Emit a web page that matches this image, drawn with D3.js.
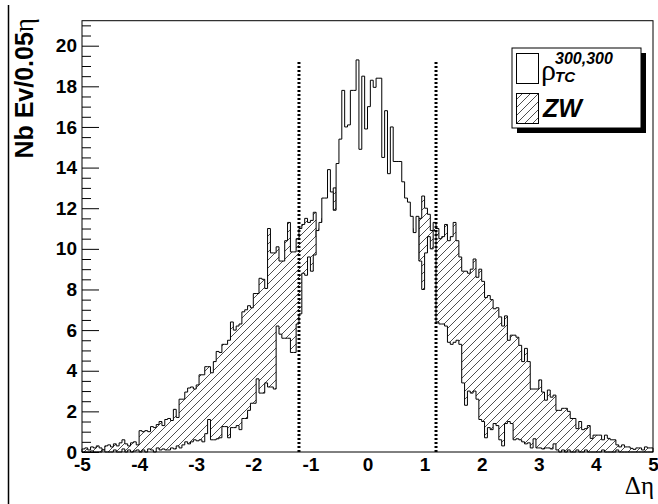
<!DOCTYPE html>
<html lang="en">
<head>
<meta charset="utf-8">
<title>delta eta</title>
<script src="https://cdn.jsdelivr.net/npm/d3@7/dist/d3.min.js"></script>
<style>
    body { margin: 0; background: #fff; }
    .tick text { font-family: "Liberation Sans", Arial, sans-serif; font-weight: bold; font-size: 19px; fill: #000; }
    .tick line { stroke: #000; stroke-width: 1; }
    .domain { display: none; }
</style>
</head>
<body>
<div id="graph"></div>
<script>

// bins of 0.05 in delta eta, from -5 to 5
var binEdges = d3.range(0, 201).map(function (i) { return -5 + i * 0.05; });

// rho_TC (300,300) signal, events per bin
var signalCounts = [
    0,0,0,0.05,0,0,0,0.1,0,0,
    0,0.1,0,0,0.15,0,0.1,0,0.05,0.1,
    0,0.1,0,0.15,0.1,0,0.2,0.1,0.15,0.1,
    0.1,0.2,0.15,0.3,0.2,0.35,0.5,0.4,0.5,0.6,
    0.55,0.6,0.5,0.9,1.6,0.6,0.6,0.65,0.7,1.25,
    1.25,0.7,1.2,1.2,1.3,1.1,1.65,1.65,2.05,2.4,
    2.4,3.6,2.9,2.9,3.4,3.2,3.2,3.1,6.2,5.8,
    5.6,5.6,5.6,4.9,4.9,6.3,6.8,8.8,8.7,9.6,
    8.9,9.7,10.9,11.3,12.5,12.5,13.9,12.8,11.9,14.2,
    15.4,17.8,16.0,16.1,17.8,17.8,19.3,14.9,18.5,15.9,
    17.0,18.3,17.95,18.4,18.4,14.5,16.8,13.7,16.0,14.3,
    14.3,14.3,13.3,12.5,12.3,11.6,10.8,11.6,9.4,8.0,
    9.8,10.6,10.0,10.9,6.4,6.3,6.3,6.2,5.4,5.3,
    5.4,5.5,5.3,3.4,2.3,3.0,2.9,3.0,2.6,1.6,
    1.5,0.7,1.2,1.1,1.4,1.3,0.6,0.3,1.4,1.5,
    1.4,0.6,0.65,0.6,0.5,0.4,0.45,0.2,0.65,0.2,
    0.2,0.15,0.2,0.2,0.15,0.4,0.1,0,0.1,0,
    0.1,0,0,0.1,0,0,0.1,0,0,0,
    0,0,0.1,0,0,0,0,0.1,0,0,
    0,0,0,0,0,0,0,0,0,0
];

// ZW background, events per bin
var zwCounts = [
    0.15,0.2,0.1,0.25,0.2,0.3,0.2,0.1,0.3,0.35,
    0.25,0.4,0.3,0.45,0.6,0.4,0.3,0.45,0.5,0.35,
    1.05,1.0,1.05,1.0,1.25,1.2,1.35,1.5,1.3,1.6,
    1.65,1.55,2.1,1.7,2.6,2.6,2.95,3.15,3.2,3.1,
    3.3,3.8,3.8,4.2,4.2,3.9,4.45,4.95,4.9,5.3,
    5.3,5.5,6.4,6.0,6.2,6.3,6.9,7.0,7.2,7.1,
    7.8,7.8,8.55,8.5,8.05,11.0,9.8,9.8,10.1,9.4,
    9.4,10.4,11.3,9.85,9.85,10.5,11.0,11.2,11.5,11.3,
    11.4,11.8,10.6,11.0,11.5,11.0,12.0,11.5,13.0,11.5,
    12.0,11.0,11.5,12.0,11.0,11.5,12.5,11.0,12.0,11.5,
    12.0,11.5,12.5,11.0,12.0,11.5,12.0,11.0,12.0,11.5,
    12.0,11.5,11.0,11.5,11.0,11.0,9.0,9.5,11.5,12.6,
    12.0,11.7,10.9,11.3,11.0,10.5,10.6,11.2,10.4,10.6,
    11.3,10.4,9.6,8.9,8.9,8.8,9.0,9.5,8.6,9.0,
    8.4,7.6,7.7,7.5,7.05,7.1,6.65,6.2,6.7,5.5,
    5.75,5.75,5.65,5.25,4.45,5.1,4.45,3.1,3.1,3.1,
    3.55,2.95,2.55,3.05,2.7,2.8,2.05,2.05,2.15,2.15,
    2.0,1.65,1.65,1.15,1.5,1.1,1.15,1.3,0.67,0.83,
    0.83,0.83,0.6,0.83,0.67,0.6,0.6,0.35,0.25,0.35,
    0.25,0.25,0.18,0.13,0.2,0.2,0.1,0.25,0.2,0.2
];

var xTicks = [-5, -4, -3, -2, -1, 0, 1, 2, 3, 4, 5];
var yTicks = [0, 2, 4, 6, 8, 10, 12, 14, 16, 18, 20];
var yMinorTicks = d3.range(0, 21.01, 0.5).filter(function (v) { return v % 2 !== 0; });
var cutValues = [-1.2, 1.2];

var W = 658, H = 504;
var frame = {left: 82, right: 653, top: 20.7, bottom: 452};

var svg = d3.select("#graph").append("svg")
    .attr("width", W)
    .attr("height", H);

// canvas border on the left
svg.append("line")
    .attr("x1", 8.5).attr("x2", 8.5)
    .attr("y1", 5).attr("y2", H)
    .attr("stroke", "#000")
    .attr("stroke-width", 1.5);

var yMax = 1.1 * d3.max(signalCounts);

var x_scale = d3.scaleLinear()
    .domain([-5, 5])
    .range([frame.left, frame.right]);

var y_scale = d3.scaleLinear()
    .domain([0, yMax])
    .range([frame.bottom, frame.top]);

// hatch pattern for ZW
var defs = svg.append("defs");
var pat = defs.append("pattern")
    .attr("id", "hatch")
    .attr("patternUnits", "userSpaceOnUse")
    .attr("width", 8)
    .attr("height", 8);
pat.append("path")
    .attr("d", "M-2,2 L2,-2 M0,8 L8,0 M6,10 L10,6")
    .attr("stroke", "#222")
    .attr("stroke-width", 0.8);

function histPoints(counts) {
    var pts = [[binEdges[0], 0]];
    counts.forEach(function (v, i) {
        pts.push([binEdges[i], v]);
        pts.push([binEdges[i + 1], v]);
    });
    pts.push([binEdges[binEdges.length - 1], 0]);
    return pts;
}

var histLine = d3.line()
    .x(function (d) { return x_scale(d[0]); })
    .y(function (d) { return y_scale(d[1]); });

// ZW first, hatched
svg.append("path")
    .datum(histPoints(zwCounts))
    .attr("d", histLine)
    .attr("fill", "url(#hatch)")
    .attr("stroke", "#000")
    .attr("stroke-width", 1);

// signal on top, white
svg.append("path")
    .datum(histPoints(signalCounts))
    .attr("d", histLine)
    .attr("fill", "#fff")
    .attr("stroke", "#000")
    .attr("stroke-width", 1);

// axes
var yAxis = d3.axisLeft(y_scale)
    .tickValues(yTicks)
    .tickSizeInner(-17)
    .tickSizeOuter(0)
    .tickPadding(5)
    .tickFormat(function (d) { return String(d); });

svg.append("g")
    .attr("transform", "translate(" + frame.left + ",0)")
    .call(yAxis);

svg.append("g")
    .attr("transform", "translate(" + frame.left + ",0)")
    .call(d3.axisLeft(y_scale).tickValues(yMinorTicks).tickSizeInner(-9).tickSizeOuter(0).tickFormat(""));

var xAxis = d3.axisBottom(x_scale)
    .tickValues(xTicks)
    .tickSize(0)
    .tickPadding(6)
    .tickFormat(function (d) { return String(d); });

svg.append("g")
    .attr("transform", "translate(0," + frame.bottom + ")")
    .call(xAxis);

// frame
svg.append("rect")
    .attr("x", frame.left)
    .attr("y", frame.top)
    .attr("width", frame.right - frame.left)
    .attr("height", frame.bottom - frame.top)
    .attr("fill", "none")
    .attr("stroke", "#000")
    .attr("stroke-width", 1);

// cut lines
svg.selectAll(".cut")
    .data(cutValues)
    .enter()
    .append("line")
    .attr("class", "cut")
    .attr("x1", function (d) { return x_scale(d); })
    .attr("x2", function (d) { return x_scale(d); })
    .attr("y1", y_scale(0))
    .attr("y2", y_scale(d3.max(signalCounts)))
    .attr("stroke", "#000")
    .attr("stroke-width", 3)
    .attr("stroke-dasharray", "2,2");

// y title
var ytitle = svg.append("text")
    .attr("transform", "translate(33,18) rotate(-90)")
    .attr("text-anchor", "end")
    .style("font-family", "'Liberation Sans', Arial, sans-serif")
    .style("font-weight", "bold")
    .style("font-size", "25px");
ytitle.append("tspan").text("Nb Ev/0.05");
ytitle.append("tspan")
    .style("font-family", "'Liberation Serif', serif")
    .style("font-weight", "normal")
    .style("font-size", "27px")
    .text("η");

// x title
svg.append("text")
    .attr("x", 654)
    .attr("y", 494)
    .attr("text-anchor", "end")
    .style("font-family", "'Liberation Serif', serif")
    .style("font-size", "25px")
    .text("Δη");

// legend
var leg = {x: 512, y: 48, w: 129, h: 80};
svg.append("rect")
    .attr("x", leg.x + 5).attr("y", leg.y + 5)
    .attr("width", leg.w).attr("height", leg.h)
    .attr("fill", "#000");
svg.append("rect")
    .attr("x", leg.x).attr("y", leg.y)
    .attr("width", leg.w).attr("height", leg.h)
    .attr("fill", "#fff")
    .attr("stroke", "#000");

svg.append("rect")
    .attr("x", 516.5).attr("y", 53.5)
    .attr("width", 22).attr("height", 30)
    .attr("fill", "#fff").attr("stroke", "#000");
svg.append("rect")
    .attr("x", 516.5).attr("y", 93.5)
    .attr("width", 22).attr("height", 30)
    .attr("fill", "url(#hatch)").attr("stroke", "#000");

svg.append("text")
    .attr("x", 541).attr("y", 80)
    .style("font-family", "'Liberation Serif', serif")
    .style("font-size", "30px")
    .text("ρ");
svg.append("text")
    .attr("x", 555).attr("y", 64)
    .style("font-family", "'Liberation Sans', Arial, sans-serif")
    .style("font-weight", "bold").style("font-style", "italic")
    .style("font-size", "16px")
    .text("300,300");
svg.append("text")
    .attr("x", 555).attr("y", 82)
    .style("font-family", "'Liberation Sans', Arial, sans-serif")
    .style("font-weight", "bold").style("font-style", "italic")
    .style("font-size", "15px")
    .text("TC");
svg.append("text")
    .attr("x", 543).attr("y", 117)
    .style("font-family", "'Liberation Sans', Arial, sans-serif")
    .style("font-weight", "bold").style("font-style", "italic")
    .style("font-size", "25px")
    .text("ZW");

</script>
</body>
</html>
